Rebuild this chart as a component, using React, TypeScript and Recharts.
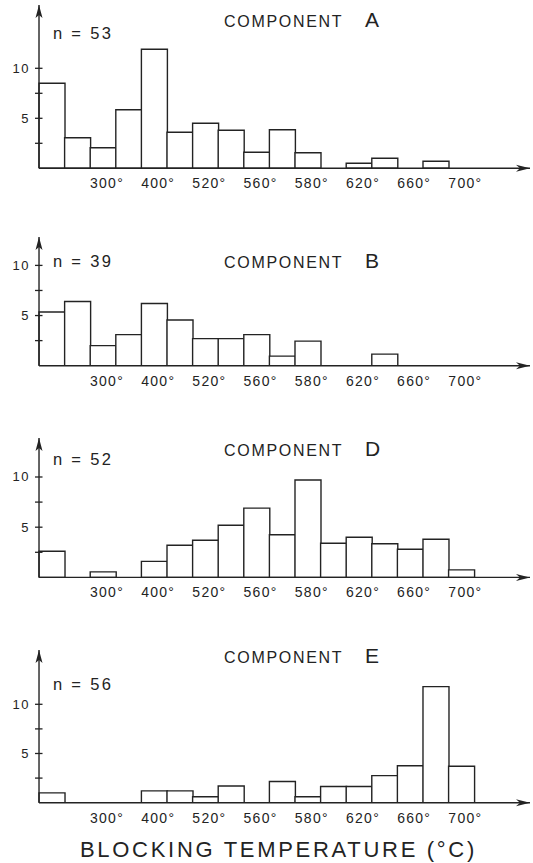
import React from 'react';
import { BarChart, Bar, XAxis, YAxis, Label } from 'recharts';

// Temperature bins along the horizontal axis (only every other bin is labelled)
const BIN_LABELS = ['', '', '300°', '', '400°', '', '520°', '', '560°', '', '580°', '', '620°', '', '660°', '', '700°', '', ''];

// Number of specimens per blocking-temperature bin
const COMPONENT_A = [8.5, 3.05, 2.05, 5.85, 11.9, 3.6, 4.5, 3.8, 1.6, 3.85, 1.55, 0, 0.5, 1.0, 0, 0.7, 0, 0, 0];
const COMPONENT_B = [5.35, 6.4, 2.0, 3.1, 6.2, 4.55, 2.7, 2.7, 3.1, 0.95, 2.45, 0, 0, 1.15, 0, 0, 0, 0, 0];
const COMPONENT_D = [2.6, 0, 0.55, 0, 1.6, 3.2, 3.7, 5.2, 6.9, 4.25, 9.7, 3.4, 4.0, 3.35, 2.8, 3.8, 0.75, 0, 0];
const COMPONENT_E = [1.0, 0, 0, 0, 1.2, 1.2, 0.6, 1.7, 0, 2.15, 0.6, 1.65, 1.65, 2.75, 3.75, 11.8, 3.7, 0, 0];

const SAMPLE_SIZES = { A: 53, B: 39, D: 52, E: 56 };

const Y_TICKS = [2.5, 5, 7.5, 10];
const Y_TICK_LABELS: Record<string, string> = { '5': '5', '10': '10' };

const AXIS_TITLE = 'BLOCKING TEMPERATURE (°C)';

const FONT = '"Liberation Sans", Arial, Helvetica, sans-serif';
const INK = '#232323';

const PLOT_LEFT = 39;
const PLOT_RIGHT = 530;
const BIN_PX = 25.6;
const MARGIN_TOP = 3;
const X_AXIS_H = 30;

const YTick = (props: any) => {
  const { x, y, payload } = props;
  const label = Y_TICK_LABELS[String(payload.value)];
  return (
    <g>
      <line x1={x - 4} x2={x + 3.5} y1={y} y2={y} stroke={INK} strokeWidth={1.3} />
      {label ? (
        <text x={x - 9} y={y + 4.5} textAnchor="end" fontFamily={FONT} fontSize={13} letterSpacing={1.5} fill={INK}>
          {label}
        </text>
      ) : null}
    </g>
  );
};

const XTick = (props: any) => {
  const { x, y, payload } = props;
  const label = BIN_LABELS[Number(payload.value)];
  if (!label) return null;
  return (
    <text x={x + 4} y={y + 20} textAnchor="middle" fontFamily={FONT} fontSize={14} letterSpacing={1.3} fill={INK}>
      {label}
    </text>
  );
};

const YArrow = (props: any) => {
  const vb = props.viewBox;
  if (!vb) return null;
  const x = vb.x + vb.width;
  const y = vb.y;
  return <path d={`M${x},${y} L${x - 3.5},${y + 13} L${x},${y + 10} L${x + 3.5},${y + 13} Z`} fill={INK} />;
};

const XArrow = (props: any) => {
  const vb = props.viewBox;
  if (!vb) return null;
  const x = vb.x + vb.width;
  const y = vb.y;
  return <path d={`M${x},${y} L${x - 14},${y - 3.5} L${x - 10},${y} L${x - 14},${y + 3.5} Z`} fill={INK} />;
};

type PanelProps = {
  values: number[];
  arrowTop: number;
  baseline: number;
  unitPx: number;
};

const Panel = ({ values, arrowTop, baseline, unitPx }: PanelProps) => {
  const plotHeight = baseline - arrowTop;
  const yMax = plotHeight / unitPx;
  const rows = values.map((v, i) => ({ bin: i, count: v }));
  const padRight = PLOT_RIGHT - PLOT_LEFT - BIN_LABELS.length * BIN_PX;
  return (
    <div style={{ position: 'absolute', left: 0, top: arrowTop - MARGIN_TOP }}>
      <BarChart
        width={533}
        height={MARGIN_TOP + plotHeight + X_AXIS_H}
        data={rows}
        margin={{ top: MARGIN_TOP, right: 533 - PLOT_RIGHT, left: 0, bottom: 0 }}
        barCategoryGap={0}
        barGap={0}
      >
        <XAxis
          dataKey="bin"
          type="category"
          height={X_AXIS_H}
          interval={0}
          tick={<XTick />}
          tickLine={false}
          tickSize={0}
          tickMargin={0}
          axisLine={{ stroke: INK, strokeWidth: 1.4 }}
          padding={{ left: 0, right: padRight }}
        >
          <Label content={<XArrow />} />
        </XAxis>
        <YAxis
          type="number"
          width={PLOT_LEFT}
          domain={[0, yMax]}
          allowDataOverflow
          ticks={Y_TICKS}
          interval={0}
          tick={<YTick />}
          tickLine={false}
          tickSize={0}
          tickMargin={0}
          axisLine={{ stroke: INK, strokeWidth: 1.4 }}
        >
          <Label content={<YArrow />} />
        </YAxis>
        <Bar dataKey="count" fill="#ffffff" stroke={INK} strokeWidth={1.4} isAnimationActive={false} />
      </BarChart>
    </div>
  );
};

type TitleProps = { letter: string; n: number; titleY: number; nY: number };

const Titles = ({ letter, n, titleY, nY }: TitleProps) => (
  <g fill={INK} fontFamily={FONT}>
    <text x={224} y={titleY} fontSize={16} letterSpacing={1.7}>COMPONENT</text>
    <text x={365} y={titleY} fontSize={21}>{letter}</text>
    <text x={53} y={nY} fontSize={16.5} letterSpacing={2.3}>{`n = ${n}`}</text>
  </g>
);

export default function App() {
  return (
    <div style={{ position: 'absolute', left: 0, top: 0, width: 533, height: 863, background: '#ffffff', overflow: 'hidden' }}>
      <Panel values={COMPONENT_A} arrowTop={5} baseline={168.3} unitPx={10.0} />
      <Panel values={COMPONENT_B} arrowTop={237.3} baseline={366} unitPx={10.03} />
      <Panel values={COMPONENT_D} arrowTop={438.3} baseline={577.7} unitPx={10.04} />
      <Panel values={COMPONENT_E} arrowTop={650} baseline={802.7} unitPx={9.84} />
      <svg width={533} height={863} style={{ position: 'absolute', left: 0, top: 0, pointerEvents: 'none' }}>
        <Titles letter="A" n={SAMPLE_SIZES.A} titleY={26.7} nY={39.3} />
        <Titles letter="B" n={SAMPLE_SIZES.B} titleY={268.3} nY={266.7} />
        <Titles letter="D" n={SAMPLE_SIZES.D} titleY={456} nY={465} />
        <Titles letter="E" n={SAMPLE_SIZES.E} titleY={662.7} nY={690} />
        <text x={80} y={857.3} fontFamily={FONT} fontSize={22} letterSpacing={2.7} fill={INK}>
          {AXIS_TITLE}
        </text>
      </svg>
    </div>
  );
}
